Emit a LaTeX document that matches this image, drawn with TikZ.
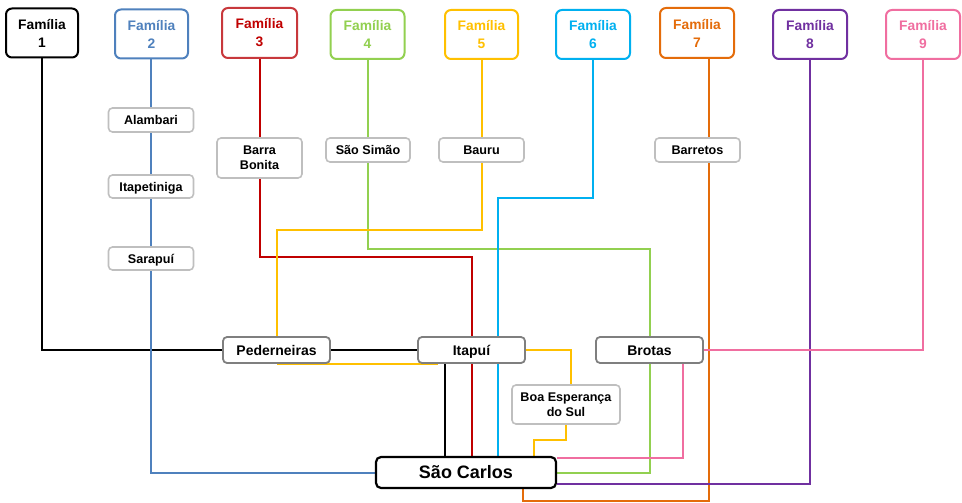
\documentclass[tikz,border=0pt]{standalone}
\usepackage{fontspec}
\setmainfont{Liberation Sans}
\usetikzlibrary{backgrounds}
\definecolor{c1}{HTML}{000000}
\definecolor{c2}{HTML}{4F81BD}
\definecolor{c3}{HTML}{C00000}
\definecolor{c3b}{HTML}{C8383C}
\definecolor{c4}{HTML}{92D050}
\definecolor{c5}{HTML}{FFC000}
\definecolor{c6}{HTML}{00B0F0}
\definecolor{c7}{HTML}{E46C0A}
\definecolor{c8}{HTML}{7030A0}
\definecolor{c9}{HTML}{F06EA0}
\definecolor{lgray}{HTML}{BFBFBF}
\definecolor{dgray}{HTML}{7F7F7F}
\tikzset{
  fam/.style={draw=#1, text=#1, line width=2pt, rounded corners=6pt, fill=white,
    minimum width=74pt, minimum height=49pt, inner sep=0pt, align=center,
    font=\fontsize{13.8}{18}\selectfont\bfseries},
  citybase/.style={draw=lgray, line width=1.6pt, rounded corners=4pt, fill=white,
    minimum width=85pt, minimum height=24pt, inner sep=0pt, align=center,
    font=\fontsize{12.6}{15}\selectfont\bfseries},
  city/.style={citybase, text height=9pt, text depth=0pt},
  hub/.style={draw=dgray, line width=1.8pt, rounded corners=4pt, fill=white,
    minimum width=107pt, minimum height=26pt, inner sep=0pt, align=center,
    text height=10pt, text depth=0pt,
    font=\fontsize{14}{16}\selectfont\bfseries},
  dest/.style={draw=black, line width=2.2pt, rounded corners=5pt, fill=white,
    minimum width=180pt, minimum height=31pt, inner sep=0pt, align=center,
    text height=12.9pt, text depth=0pt,
    font=\fontsize{18}{20}\selectfont\bfseries},
  ln/.style={draw=#1, line width=2pt},
}
\begin{document}
\begin{tikzpicture}[x=1pt,y=-1pt]
\useasboundingbox (0,0) rectangle (962,503);
% family boxes
\node[fam=c1, minimum width=72pt] (f1) at (42,33) {Família\\1};
\node[fam=c2, minimum width=73pt] (f2) at (151.5,34) {Família\\2};
\node[fam=c3, draw=c3b, minimum width=75pt, minimum height=50pt] (f3) at (259.5,33) {Família\\3};
\node[fam=c4] (f4) at (367.5,34.5) {Família\\4};
\node[fam=c5, minimum width=73pt] (f5) at (481.5,34.5) {Família\\5};
\node[fam=c6] (f6) at (593,34.5) {Família\\6};
\node[fam=c7, minimum height=50pt] (f7) at (697,33) {Família\\7};
\node[fam=c8] (f8) at (810,34.5) {Família\\8};
\node[fam=c9] (f9) at (923,34.5) {Família\\9};
% intermediate cities
\node[city] (alam) at (151,120) {Alambari};
\node[city, minimum height=23pt] (itap) at (151,186.5) {Itapetiniga};
\node[city, minimum height=23pt] (sara) at (151,258.5) {Sarapuí};
\node[citybase, minimum height=40pt] (bb) at (259.5,158) {Barra\\Bonita};
\node[city, minimum width=84pt] (ss) at (368,150) {São Simão};
\node[city] (bau) at (481.5,150) {Bauru};
\node[city] (bar) at (697.5,150) {Barretos};
\node[citybase, minimum width=108pt, minimum height=39pt] (bes) at (566,404.5) {Boa Esperança\\do Sul};
% hubs
\node[hub] (ped) at (276.5,350) {Pederneiras};
\node[hub] (ita) at (471.5,350) {Itapuí};
\node[hub] (bro) at (649.5,350) {Brotas};
\node[dest] (sc) at (466,472.5) {São Carlos};
% helper coordinates
\coordinate (r1) at (472,257);
\coordinate (g1) at (500,249);
\coordinate (y1) at (400,230);
\coordinate (y2) at (550,440);
\coordinate (cy1) at (498,198);
\coordinate (o1) at (600,501);
\begin{scope}[on background layer]
% family 1
\draw[ln=c1] (f1.south) |- (ped.west);
\draw[ln=c1] (ped.east) -- (ita.west);
\draw[ln=c1] ([xshift=-26.5]ita.south) -- ([xshift=-26.5]ita.south |- sc.north);
% family 2
\draw[ln=c2] (alam.north |- f2.south) -- (alam.north);
\draw[ln=c2] (alam.south) -- (itap.north);
\draw[ln=c2] (itap.south) -- (sara.north);
\draw[ln=c2] (sara.south) |- (sc.west);
% family 3
\draw[ln=c3] (f3.south) -- (bb.north);
\draw[ln=c3] (bb.south) |- (r1) -- (r1 |- ita.north);
\draw[ln=c3] (r1 |- ita.south) -- (r1 |- sc.north);
% family 4
\draw[ln=c4] (ss.north |- f4.south) -- (ss.north);
\draw[ln=c4] (ss.south) |- (g1) -| (bro.north);
\draw[ln=c4] (bro.south) |- (sc.east);
% family 5
\draw[ln=c5] (f5.south) -- (bau.north);
\draw[ln=c5] (bau.south) |- (y1) -| (ped.north);
\draw[ln=c5] (ped.south) -| ([xshift=-33.5]ita.south);
\draw[ln=c5] (ita.east) -| ([xshift=5]bes.north);
\draw[ln=c5] (bes.south) |- (y2) -| ([xshift=68]sc.north);
% family 6
\draw[ln=c6] (f6.south) |- (cy1) -- (cy1 |- ita.north);
\draw[ln=c6] (cy1 |- ita.south) -- (cy1 |- sc.north);
% family 7
\draw[ln=c7] ([xshift=12]f7.south) -- ([xshift=11.5]bar.north);
\draw[ln=c7] ([xshift=11.5]bar.south) |- (o1) -| ([xshift=57]sc.south);
% family 8
\draw[ln=c8] (f8.south) |- ([yshift=-11.5]sc.east);
% family 9
\draw[ln=c9] (f9.south) |- (bro.east);
\draw[ln=c9] ([xshift=33.5]bro.south) |- ([yshift=-2]sc.north east);
\end{scope}
\end{tikzpicture}
\end{document}
